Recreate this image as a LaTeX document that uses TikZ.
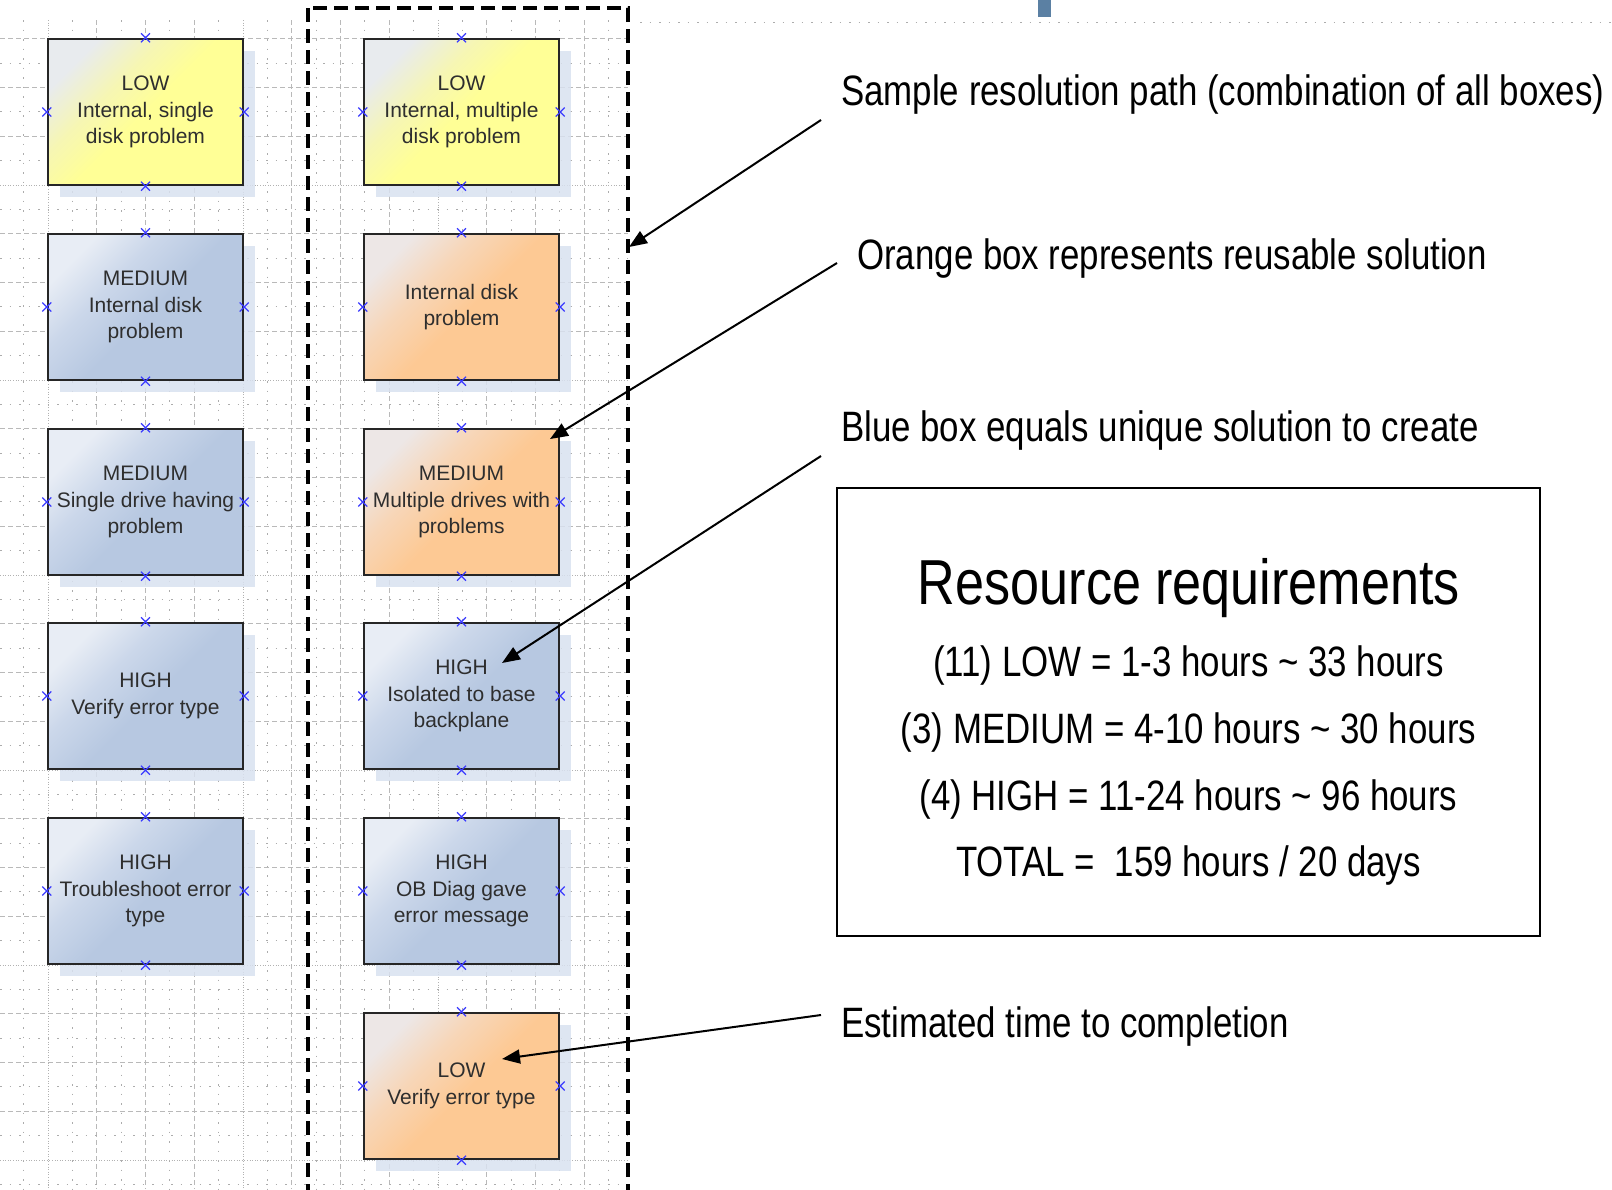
\documentclass[tikz,border=0pt]{standalone}
\usepackage{fontspec}
\setmainfont{Liberation Sans}
\newfontfamily\narrowfont[FakeStretch=0.82]{Liberation Sans}
\usetikzlibrary{arrows.meta,shadows}
\definecolor{shadowc}{HTML}{D9E2F0}
\definecolor{ylA}{HTML}{E8EBEE}\definecolor{ylB}{HTML}{F6F6B4}\definecolor{ylC}{HTML}{FFFF96}
\definecolor{blA}{HTML}{E8EDF5}\definecolor{blB}{HTML}{CBD7EA}\definecolor{blC}{HTML}{B7C8E1}
\definecolor{orA}{HTML}{EDE7E6}\definecolor{orB}{HTML}{F7D6B8}\definecolor{orC}{HTML}{FDC994}
\definecolor{boxtext}{HTML}{2E2E2E}
\definecolor{xmarkc}{HTML}{3B3BFF}
\definecolor{tabc}{HTML}{5B80A3}
\pgfdeclareverticalshading{yshade}{100bp}{color(0bp)=(ylC); color(50bp)=(ylC); color(62bp)=(ylB); color(75bp)=(ylA); color(100bp)=(ylA)}
\pgfdeclareverticalshading{bshade}{100bp}{color(0bp)=(blC); color(48bp)=(blC); color(62bp)=(blB); color(75bp)=(blA); color(100bp)=(blA)}
\pgfdeclareverticalshading{oshade}{100bp}{color(0bp)=(orC); color(48bp)=(orC); color(62bp)=(orB); color(75bp)=(orA); color(100bp)=(orA)}
\tikzset{
  gmajor/.style={gray!60,line width=0.8pt,dash pattern=on 1pt off 1.6pt},
  gmid/.style={gray!55,line width=0.8pt,dash pattern=on 5pt off 3pt},
  gminor/.style={gray!65,line width=0.9pt,dash pattern=on 1.5pt off 8pt},
  taskbox/.style={draw=black!85,line width=2.4pt,minimum width=195pt,minimum height=146pt,
    inner sep=0pt,align=center,text=boxtext,font=\fontsize{21}{26.7}\selectfont,
    drop shadow={shadow xshift=12pt,shadow yshift=-12pt,fill=shadowc,opacity=0.85}},
  yellowbox/.style={taskbox,shade,shading=yshade,shading angle=45},
  bluebox/.style={taskbox,shade,shading=bshade,shading angle=45},
  orangebox/.style={taskbox,shade,shading=oshade,shading angle=45},
  xmark/.style={xmarkc,line width=1.2pt},
  pathframe/.style={draw=black,line width=3.3pt,dash pattern=on 14pt off 7pt},
  lbl/.style={inner sep=0pt,anchor=base west,font=\narrowfont\fontsize{42.5}{50}\selectfont},
  reslbl/.style={inner sep=0pt,anchor=base,font=\narrowfont\fontsize{42.5}{50}\selectfont},
  callout/.style={draw=black,line width=2pt,-{Triangle[length=18pt,width=14pt]}},
}
\begin{document}
\begin{tikzpicture}[x=1pt,y=-1pt]
\useasboundingbox (0,0) rectangle (1612,1189);
\fill[white] (0,0) rectangle (1612,1189);
% grid
\foreach \i in {-1,...,23} {
  \pgfmathtruncatemacro\m{mod(\i+16,8)}
  \pgfmathsetmacro\xx{48+24.375*\i}
  \ifnum\m=0 \draw[gmajor] (\xx,20) -- (\xx,1189);
  \else\ifodd\m \draw[gminor] (\xx,20) -- (\xx,1189);
  \else \draw[gmid] (\xx,20) -- (\xx,1189);
  \fi\fi
}
\foreach \j in {-6,...,41} {
  \pgfmathtruncatemacro\m{mod(\j+48,8)}
  \pgfmathsetmacro\yy{185+24.375*\j}
  \ifnum\m=0 \draw[gmajor] (0,\yy) -- (628,\yy);
  \else\ifodd\m \draw[gminor] (0,\yy) -- (628,\yy);
  \else \draw[gmid] (0,\yy) -- (628,\yy);
  \fi\fi
}
\draw[gminor] (640,22) -- (1612,22);
\fill[tabc] (1038,0) rectangle (1051,17);
% boxes
\node[yellowbox] (L1) at (145.5,112) {LOW\\Internal, single\\disk problem};
\node[bluebox]   (L2) at (145.5,307) {MEDIUM\\Internal disk\\problem};
\node[bluebox]   (L3) at (145.5,502) {MEDIUM\\Single drive having\\problem};
\node[bluebox]   (L4) at (145.5,696) {HIGH\\Verify error type};
\node[bluebox]   (L5) at (145.5,891) {HIGH\\Troubleshoot error\\type};
\node[yellowbox] (R1) at (461.5,112) {LOW\\Internal, multiple\\disk problem};
\node[orangebox] (R2) at (461.5,307) {Internal disk\\problem};
\node[orangebox] (R3) at (461.5,502) {MEDIUM\\Multiple drives with\\problems};
\node[bluebox]   (R4) at (461.5,696) {HIGH\\Isolated to base\\backplane};
\node[bluebox]   (R5) at (461.5,891) {HIGH\\OB Diag gave\\error message};
\node[orangebox] (R6) at (461.5,1086) {LOW\\Verify error type};
\foreach \b in {L1,L2,L3,L4,L5,R1,R2,R3,R4,R5,R6} {
  \foreach \a in {north,south,east,west} {
    \draw[xmark] (\b.\a) +(-4.5,-4.5) -- +(4.5,4.5) +(-4.5,4.5) -- +(4.5,-4.5);
  }
}
% dashed frame
\draw[pathframe] (308,8) rectangle (628,1220);
% labels
\node[lbl] (t1) at (841,105) {Sample resolution path (combination of all boxes)};
\node[lbl] (t2) at (857,269) {Orange box represents reusable solution};
\node[lbl] (t3) at (841,441) {Blue box equals unique solution to create};
\node[lbl] (t4) at (841,1037) {Estimated time to completion};
\coordinate (s1) at (821,120);  \coordinate (e1) at (629,247);
\coordinate (s2) at (837,263);  \coordinate (e2) at (550,439);
\coordinate (s3) at (821,456);  \coordinate (e3) at (502,663);
\coordinate (s4) at (821,1015); \coordinate (e4) at (502,1059);
\draw[callout] (s1) -- (e1);
\draw[callout] (s2) -- (e2);
\draw[callout] (s3) -- (e3);
\draw[callout] (s4) -- (e4);
% resource box
\node[draw=black,line width=2pt,minimum width=703pt,minimum height=448pt,inner sep=0pt] (res) at (1188.5,712) {};
\node[inner sep=0pt,anchor=base,font=\narrowfont\fontsize{63.6}{70}\selectfont] (rt) at (1189,604) {Resource requirements};
\node[reslbl] (r1) at (1188.5,676) {(11) LOW = 1-3 hours \textasciitilde{} 33 hours};
\node[reslbl] (r2) at (1188.5,743) {(3) MEDIUM = 4-10 hours \textasciitilde{} 30 hours};
\node[reslbl] (r3) at (1188.5,810) {(4) HIGH = 11-24 hours \textasciitilde{} 96 hours};
\node[reslbl] (r4) at (1188.5,876) {TOTAL =\ \ 159 hours / 20 days};
\end{tikzpicture}
\end{document}
